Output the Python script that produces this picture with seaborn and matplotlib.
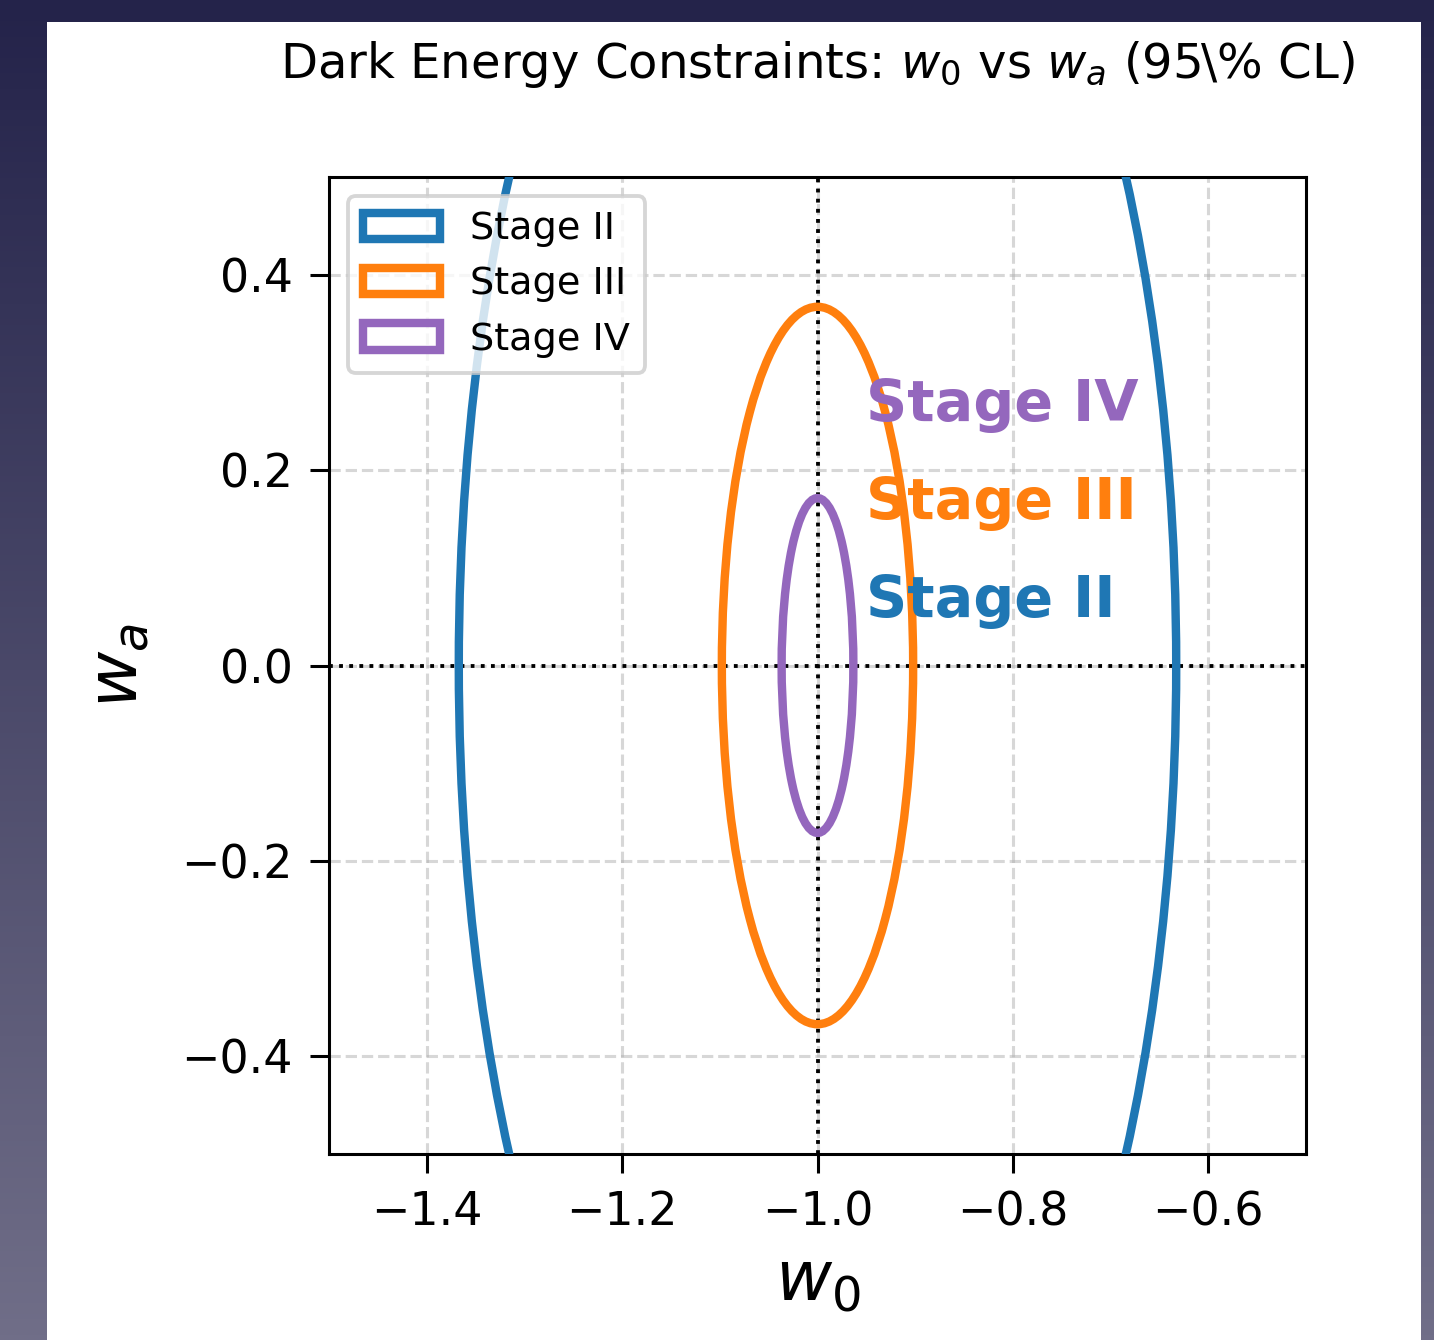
import numpy as np
import matplotlib
matplotlib.use("Agg")
import matplotlib.pyplot as plt
from matplotlib.patches import Ellipse, Rectangle
import seaborn as sns

# Forecast 1-sigma uncertainties on the CPL parameters (fiducial w0=-1, wa=0)
stages = ["Stage II", "Stage III", "Stage IV"]
sigma_w0 = [0.15, 0.04, 0.015]
sigma_wa = [0.40, 0.15, 0.07]
fiducial_w0 = -1.0
fiducial_wa = 0.0
delta_chi2_95 = 5.991  # 2 parameters, 95% CL

# Annotation positions for the stage labels
label_w0 = [-0.95, -0.95, -0.95]
label_wa = [0.05, 0.15, 0.25]

xticks = [-1.4, -1.2, -1.0, -0.8, -0.6]
yticks = [-0.4, -0.2, 0.0, 0.2, 0.4]

sns.set_theme(style="white", rc={"axes.edgecolor": "black", "text.color": "black",
                                 "xtick.color": "black", "ytick.color": "black",
                                 "axes.labelcolor": "black"})
plt.rcParams["font.family"] = ["DejaVu Sans"]
palette = sns.color_palette("tab10")
colors = [palette[0], palette[1], palette[4]]

W, H, DPI = 1434, 1340, 275
fig = plt.figure(figsize=(W / DPI, H / DPI), dpi=DPI)

# Backdrop: dark vertical gradient with a white sheet
bg = fig.add_axes([0, 0, 1, 1], zorder=-10)
top = np.array([36, 35, 74]) / 255
bot = np.array([112, 110, 136]) / 255
t = np.linspace(0, 1, 256)[:, None]
grad = (top[None, :] * (1 - t) + bot[None, :] * t)[:, None, :]
bg.imshow(grad, aspect="auto", extent=[0, 1, 0, 1], origin="upper")
bg.add_patch(Rectangle((47 / W, 0), (1421 - 47) / W, 1 - 22 / H,
                       facecolor="white", edgecolor="none"))
bg.set_xlim(0, 1)
bg.set_ylim(0, 1)
bg.axis("off")

ax = fig.add_axes([329 / W, 1 - 1154 / H, (1306 - 329) / W, (1154 - 177) / H])
ax.set_facecolor("white")

scale = np.sqrt(delta_chi2_95)
for name, sx, sy, c in zip(stages, sigma_w0, sigma_wa, colors):
    ax.add_patch(Ellipse((fiducial_w0, fiducial_wa), 2 * scale * sx, 2 * scale * sy,
                         fill=False, edgecolor=c, linewidth=2.2, label=name, zorder=3))

for name, x, y, c in zip(stages, label_w0, label_wa, colors):
    ax.text(x, y, name, color=c, fontsize=15, fontweight="bold", zorder=4)

ax.axvline(fiducial_w0, color="black", linestyle=":", linewidth=1, zorder=2)
ax.axhline(fiducial_wa, color="black", linestyle=":", linewidth=1, zorder=2)

ax.set_xlim(-1.5, -0.5)
ax.set_ylim(-0.5, 0.5)
ax.set_xticks(xticks)
ax.set_yticks(yticks)
ax.tick_params(axis="both", labelsize=12, length=5, width=0.8, pad=4.5,
               direction="out", bottom=True, left=True)
ax.grid(True, linestyle="--", color="#b0b0b0", alpha=0.5, linewidth=0.8)
for s in ax.spines.values():
    s.set_linewidth(0.8)
    s.set_color("black")

ax.set_xlabel("$w_0$", fontsize=18, labelpad=3)
ax.set_ylabel("$w_a$", fontsize=18, labelpad=8)
ax.set_title("Dark Energy Constraints: $w_0$ vs $w_a$ (95\\% CL)", fontsize=12.6, pad=26)

ax.legend(loc="upper left", fontsize=10, frameon=True, fancybox=True, framealpha=0.8,
          edgecolor="#cccccc")

fig.savefig("out.png", dpi=DPI)
